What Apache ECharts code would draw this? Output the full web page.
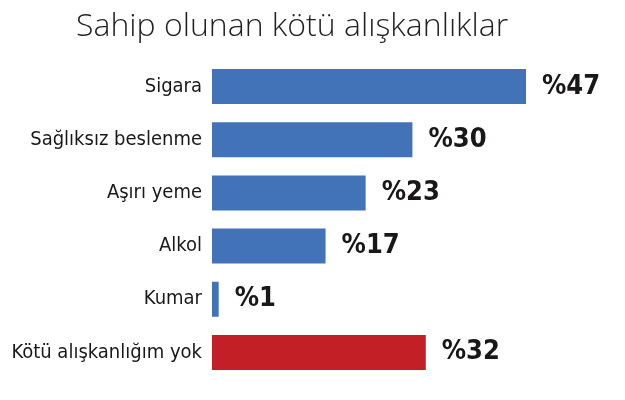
<!DOCTYPE html>
<html>
<head>
<meta charset="utf-8">
<script src="https://cdn.jsdelivr.net/npm/echarts@6/dist/echarts.min.js"></script>
<style>
    html, body { margin: 0; padding: 0; background: #fff; }
    #container { width: 625px; height: 400px; }
</style>
</head>
<body>
<div id="container"></div>
<script>
// veriler
var categories = ['Sigara', 'Sağlıksız beslenme', 'Aşırı yeme', 'Alkol', 'Kumar', 'Kötü alışkanlığım yok'];
var values = [47, 30, 23, 17, 1, 32];
var barColors = ['#4273b8', '#4273b8', '#4273b8', '#4273b8', '#4273b8', '#c21f27'];

var myChart = echarts.init(document.getElementById('container'));

var seriesData = [];
for (var i = 0; i < values.length; i++) {
    seriesData.push({
        value: values[i],
        itemStyle: { color: barColors[i] }
    });
}

var option = {
    animation: false,
    title: {
        text: 'Sahip olunan kötü alışkanlıklar',
        left: 71,
        top: 6,
        textStyle: {
            fontFamily: 'Open Sans',
            fontWeight: 300,
            fontSize: 32,
            color: '#231f20'
        }
    },
    grid: {
        top: 60,
        bottom: 21,
        left: 212,
        right: 99,
        containLabel: false,
        outerBoundsMode: 'none'
    },
    xAxis: {
        type: 'value',
        min: 0,
        max: 47,
        show: false
    },
    yAxis: {
        type: 'category',
        inverse: true,
        data: categories,
        axisLine: { show: false },
        axisTick: { show: false },
        axisLabel: {
            margin: 10,
            fontFamily: 'DejaVu Sans Condensed',
            fontSize: 20,
            color: '#1a1718'
        }
    },
    series: [
        {
            type: 'bar',
            barWidth: 35,
            data: seriesData,
            label: {
                show: true,
                position: 'right',
                distance: 16,
                formatter: '%{c}',
                fontFamily: 'DejaVu Sans Condensed',
                fontWeight: 'bold',
                fontSize: 27,
                color: '#1a1718'
            }
        }
    ]
};
myChart.setOption(option);
</script>
</body>
</html>
